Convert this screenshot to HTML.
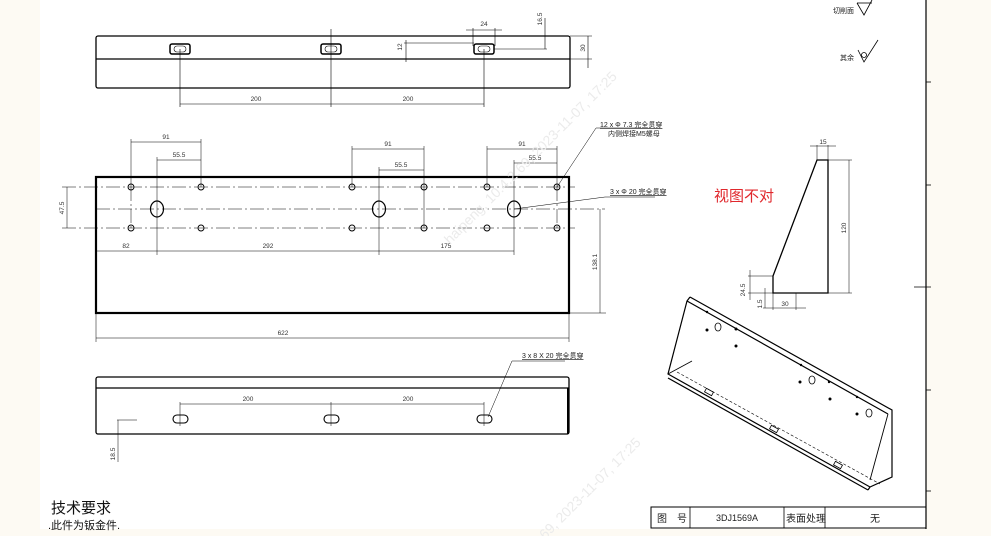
<!DOCTYPE html>
<html><head><meta charset="utf-8"><style>
body{margin:0;background:#fdfaf3;}
svg{display:block;font-family:"Liberation Sans","Noto Sans CJK SC",sans-serif;}
</style></head><body>
<svg width="991" height="536" viewBox="0 0 991 536" xmlns="http://www.w3.org/2000/svg">
<rect x="0" y="0" width="991" height="536" fill="#fdfaf3"/>
<rect x="40" y="0" width="886" height="529" fill="#ffffff"/>
<g stroke="#000" fill="none" stroke-width="0.8">
<line x1="926" y1="0" x2="926" y2="529" stroke-width="1.2"/>
<line x1="926" y1="82" x2="931" y2="82"/><line x1="926" y1="185" x2="931" y2="185"/>
<line x1="914" y1="287" x2="931" y2="287"/><line x1="926" y1="390" x2="931" y2="390"/><line x1="926" y1="491" x2="931" y2="491"/>

<rect x="96" y="36" width="474" height="52" rx="2" stroke-width="1.3"/>
<line x1="96" y1="59" x2="570" y2="59" stroke-width="1.2"/>
<g stroke-width="1.5">
<rect x="170" y="44" width="20" height="10" rx="2"/><rect x="321" y="44" width="20" height="10" rx="2"/><rect x="474" y="44" width="20" height="10" rx="2"/>
</g>
<g stroke-width="0.6">
<rect x="174" y="46" width="12" height="6" rx="3"/><rect x="325" y="46" width="12" height="6" rx="3"/><rect x="478" y="46" width="12" height="6" rx="3"/>
<line x1="180" y1="49" x2="180" y2="107"/>
<line x1="331" y1="29" x2="331" y2="107"/><line x1="484" y1="49" x2="484" y2="107"/>
<line x1="180" y1="104" x2="484" y2="104"/>
<line x1="473" y1="28" x2="473" y2="46"/><line x1="495" y1="28" x2="495" y2="46"/><line x1="466" y1="30" x2="502" y2="30"/>
<line x1="404" y1="43" x2="474" y2="43"/><line x1="404" y1="59" x2="474" y2="59"/><line x1="406" y1="40" x2="406" y2="62"/>
<line x1="494" y1="49" x2="547" y2="49"/><line x1="545" y1="18" x2="545" y2="49"/>
<line x1="570" y1="36" x2="592" y2="36"/><line x1="570" y1="59" x2="592" y2="59"/><line x1="588" y1="36" x2="588" y2="68"/>
</g>
<rect x="96" y="177" width="473" height="136" stroke-width="2.2"/>
<g stroke-width="0.5" stroke-dasharray="14,3,2,3">
<line x1="62" y1="187" x2="575" y2="187"/><line x1="96" y1="209" x2="605" y2="209"/><line x1="62" y1="228" x2="575" y2="228"/>
<line x1="131" y1="187" x2="131" y2="228"/><line x1="557" y1="187" x2="557" y2="228"/>
</g>
<g stroke-width="0.9">
<circle cx="131" cy="187" r="3"/><circle cx="201" cy="187" r="3"/><circle cx="352" cy="187" r="3"/><circle cx="424" cy="187" r="3"/><circle cx="487" cy="187" r="3"/><circle cx="557" cy="187" r="3"/>
<circle cx="131" cy="228" r="3"/><circle cx="201" cy="228" r="3"/><circle cx="352" cy="228" r="3"/><circle cx="424" cy="228" r="3"/><circle cx="487" cy="228" r="3"/><circle cx="557" cy="228" r="3"/>
<ellipse cx="157" cy="209" rx="6.5" ry="8" stroke-width="1.2"/><ellipse cx="379" cy="209" rx="6.5" ry="8" stroke-width="1.2"/><ellipse cx="514" cy="209" rx="6.5" ry="8" stroke-width="1.2"/>
</g>
<g stroke-width="0.5">
<line x1="131" y1="139" x2="131" y2="187"/><line x1="201" y1="139" x2="201" y2="187"/><line x1="131" y1="142" x2="201" y2="142"/>
<line x1="157" y1="157" x2="157" y2="255"/><line x1="157" y1="160" x2="201" y2="160"/>
<line x1="352" y1="146" x2="352" y2="187"/><line x1="424" y1="146" x2="424" y2="228"/><line x1="352" y1="149" x2="424" y2="149"/>
<line x1="379" y1="167" x2="379" y2="255"/><line x1="379" y1="170" x2="424" y2="170"/>
<line x1="487" y1="146" x2="487" y2="187"/><line x1="557" y1="146" x2="557" y2="187"/><line x1="487" y1="149" x2="557" y2="149"/>
<line x1="514" y1="160" x2="514" y2="255"/><line x1="514" y1="163" x2="557" y2="163"/>
<line x1="96" y1="251" x2="514" y2="251"/>
<line x1="96" y1="313" x2="96" y2="342"/><line x1="569" y1="313" x2="569" y2="342"/><line x1="96" y1="338" x2="569" y2="338"/>
<line x1="569" y1="313" x2="606" y2="313"/><line x1="600" y1="209" x2="600" y2="313"/>
<line x1="67" y1="187" x2="67" y2="228"/>
<polyline points="557,187 596,128 640,128"/>
<line x1="514" y1="209" x2="605" y2="197"/><line x1="605" y1="197" x2="655" y2="197"/>
</g>
<rect x="96" y="377" width="473" height="57" rx="2" stroke-width="1.3"/>
<line x1="96" y1="388" x2="569" y2="388" stroke-width="1.2"/>
<line x1="568" y1="388" x2="568" y2="434" stroke-width="2"/>
<g stroke-width="1.1">
<rect x="173" y="415" width="15" height="8" rx="4"/><rect x="324" y="415" width="15" height="8" rx="4"/><rect x="477" y="415" width="15" height="8" rx="4"/>
</g>
<g stroke-width="0.5">
<line x1="180" y1="404" x2="484" y2="404"/>
<line x1="180" y1="402" x2="180" y2="426"/><line x1="331" y1="402" x2="331" y2="426"/><line x1="484" y1="402" x2="484" y2="426"/>
<line x1="117" y1="420" x2="137" y2="420"/><line x1="118" y1="420" x2="118" y2="462"/>
<polyline points="488,417 512,361 565,361"/>
</g>
<polygon points="817,160 828,160 828,293 773,293 773,276" stroke-width="1.3"/>
<g stroke-width="0.5">
<line x1="817" y1="145" x2="817" y2="160"/><line x1="828" y1="145" x2="828" y2="160"/><line x1="810" y1="146" x2="836" y2="146"/>
<line x1="828" y1="160" x2="852" y2="160"/><line x1="828" y1="293" x2="852" y2="293"/><line x1="849" y1="160" x2="849" y2="293"/>
<line x1="748" y1="276" x2="773" y2="276"/><line x1="748" y1="293" x2="773" y2="293"/><line x1="750" y1="270" x2="750" y2="300"/>
<line x1="765" y1="288" x2="765" y2="308"/>
<line x1="773" y1="293" x2="773" y2="310"/><line x1="796" y1="293" x2="796" y2="310"/><line x1="763" y1="308" x2="806" y2="308"/>
</g>
<g stroke-width="1.2">
<polyline points="690,297 892,410 892,418"/>
<polyline points="690,297 687,301 668,374 870,487 892,477 892,418"/>
<line x1="687" y1="301" x2="888" y2="414"/>
<line x1="668" y1="374" x2="692" y2="361" stroke-width="0.8"/>
<line x1="888" y1="414" x2="870" y2="480" stroke-width="0.9"/>
<line x1="668" y1="378" x2="868" y2="490"/>
<line x1="868" y1="490" x2="870" y2="487"/>
</g>
<line x1="677" y1="372" x2="880" y2="484" stroke-width="0.6" stroke-dasharray="3,2"/>
<g stroke-width="0.8">
<ellipse cx="718" cy="327" rx="3" ry="4"/><ellipse cx="812" cy="380" rx="3" ry="4"/><ellipse cx="869" cy="413" rx="3" ry="4"/>
<rect x="705" y="390" width="8" height="4" transform="rotate(29 709 392)"/>
<rect x="770" y="427" width="8" height="4" transform="rotate(29 774 429)"/>
<rect x="834" y="463" width="8" height="4" transform="rotate(29 838 465)"/>
</g>
<g fill="#000" stroke="none">
<circle cx="707" cy="330" r="1.5"/><circle cx="736" cy="329" r="1.5"/><circle cx="736" cy="346" r="1.5"/><circle cx="707" cy="312" r="1.2"/>
<circle cx="800" cy="382" r="1.5"/><circle cx="830" cy="399" r="1.5"/><circle cx="801" cy="365" r="1.2"/><circle cx="829" cy="382" r="1.2"/>
<circle cx="857" cy="414" r="1.5"/><circle cx="857" cy="397" r="1.2"/>
</g>
<polyline points="857,3 864,15 872,0" stroke-width="0.8"/><line x1="857" y1="3" x2="872" y2="3"/>
<polyline points="858,50 864,62 878,40" stroke-width="0.8"/><circle cx="864" cy="55" r="2.5"/>
<rect x="651" y="507" width="275" height="21" stroke-width="1"/>
<line x1="690" y1="507" x2="690" y2="528"/><line x1="784" y1="507" x2="784" y2="528"/><line x1="825" y1="507" x2="825" y2="528"/>
</g>
<g font-size="6.5" fill="#333" text-anchor="middle">
<text x="256" y="101">200</text><text x="408" y="101">200</text>
<text x="484" y="26">24</text>
<text transform="translate(542,19) rotate(-90)">16.5</text>
<text transform="translate(402,47) rotate(-90)">12</text>
<text transform="translate(585,48) rotate(-90)">30</text>
<text x="166" y="139">91</text><text x="179" y="157">55.5</text>
<text x="388" y="146">91</text><text x="401" y="167">55.5</text>
<text x="522" y="146">91</text><text x="535" y="160">55.5</text>
<text x="126" y="248">82</text><text x="268" y="248">292</text><text x="446" y="248">175</text>
<text x="283" y="335">622</text>
<text transform="translate(597,262) rotate(-90)">138.1</text>
<text transform="translate(64,208) rotate(-90)">47.5</text>
<text x="248" y="401">200</text><text x="408" y="401">200</text>
<text transform="translate(115,454) rotate(-90)">18.5</text>
<text x="823" y="144">15</text>
<text transform="translate(846,228) rotate(-90)">120</text>
<text transform="translate(745,290) rotate(-90)">24.5</text>
<text transform="translate(762,304) rotate(-90)">1.5</text>
<text x="785" y="306">30</text>
</g>
<g font-size="7" fill="#222">
<text x="600" y="127" text-decoration="underline">12 x Φ 7.3 完全贯穿</text>
<text x="608" y="136">内侧焊接M5螺母</text>
<text x="610" y="194" text-decoration="underline">3 x Φ 20 完全贯穿</text>
<text x="522" y="358" text-decoration="underline">3 x 8 X 20 完全贯穿</text>
<text x="833" y="13">切削面</text>
<text x="840" y="60">其余</text>
</g>
<text x="714" y="201" font-size="15" fill="#e0282d">视图不对</text>
<text x="51" y="513" font-size="15" fill="#111">技术要求</text>
<text x="48" y="529" font-size="11" fill="#111">.此件为钣金件.</text>
<g font-size="10" fill="#222">
<text x="657" y="522">图</text><text x="677" y="522">号</text>
<text x="737" y="521" text-anchor="middle" font-size="9">3DJ1569A</text>
<text x="786" y="522">表面处理</text>
<text x="875" y="522" text-anchor="middle">无</text>
</g>
<g font-size="14" fill="#ebebeb" font-family="Liberation Sans, sans-serif">
<text transform="translate(450,245) rotate(-45)">haipeng, 10.4.2.69, 2023-11-07, 17:25</text>
<text transform="translate(545,540) rotate(-45)">69, 2023-11-07, 17:25</text>
</g>
</svg>
</body></html>
